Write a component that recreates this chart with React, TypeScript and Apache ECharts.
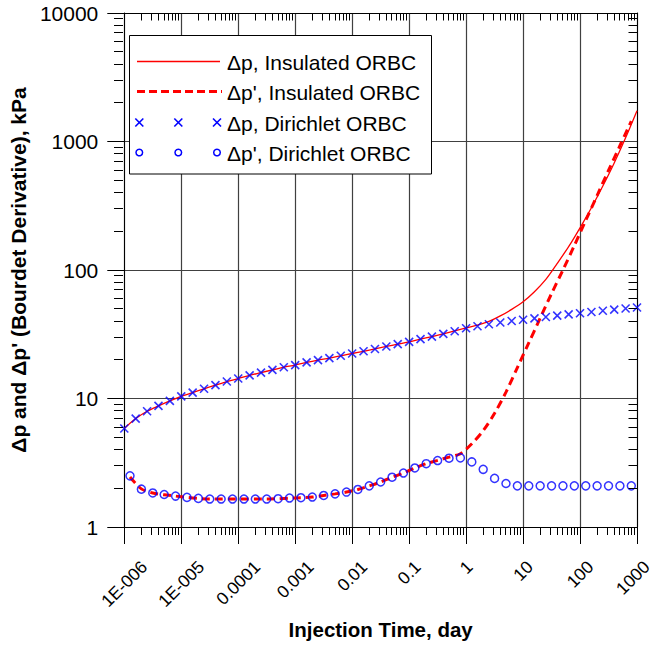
import React, { useEffect, useRef } from 'react';
import * as echarts from 'echarts';

// Sample times (day) for pressure change, 5 per decade
const tDp = [
  1e-6, 1.585e-6, 2.512e-6, 3.981e-6, 6.31e-6,
  1e-5, 1.585e-5, 2.512e-5, 3.981e-5, 6.31e-5,
  1e-4, 1.585e-4, 2.512e-4, 3.981e-4, 6.31e-4,
  1e-3, 1.585e-3, 2.512e-3, 3.981e-3, 6.31e-3,
  0.01, 0.01585, 0.02512, 0.03981, 0.0631,
  0.1, 0.1585, 0.2512, 0.3981, 0.631,
  1, 1.585, 2.512, 3.981, 6.31,
  10, 15.85, 25.12, 39.81, 63.1,
  100, 158.5, 251.2, 398.1, 631,
  1000,
];

// Δp, Insulated ORBC (kPa)
const dpInsulated = [
  5.84, 6.98, 7.96, 8.76, 9.58, 10.4, 11.1, 11.9, 12.7, 13.55,
  14.3, 15.15, 15.9, 16.7, 17.5, 18.2, 19.1, 19.9, 20.6, 21.5,
  22.4, 23.3, 24.3, 25.4, 26.5, 27.6, 29.0, 30.3, 31.9, 33.6,
  35.4, 37.3, 39.8, 43.9, 49.4, 56.6, 67.8, 84.5, 112.5, 152,
  213, 305, 450, 681, 1069, 1738,
];

// Δp, Dirichlet ORBC (kPa)
const dpDirichlet = [
  5.84, 6.98, 7.96, 8.76, 9.58, 10.4, 11.1, 11.9, 12.7, 13.55,
  14.3, 15.15, 15.9, 16.7, 17.5, 18.2, 19.1, 19.9, 20.6, 21.5,
  22.4, 23.3, 24.3, 25.4, 26.5, 27.6, 29.0, 30.3, 31.8, 33.4,
  35.2, 36.5, 37.8, 39.0, 40.1, 41.0, 42.0, 43.1, 44.1, 45.2,
  46.1, 47.1, 48.2, 49.2, 50.2, 51.1,
];

// Sample times (day) for Bourdet derivative
const tDer = [
  1.259e-6, 1.995e-6, 3.162e-6, 5.012e-6, 7.943e-6,
  1.259e-5, 1.995e-5, 3.162e-5, 5.012e-5, 7.943e-5,
  1.259e-4, 1.995e-4, 3.162e-4, 5.012e-4, 7.943e-4,
  1.259e-3, 1.995e-3, 3.162e-3, 5.012e-3, 7.943e-3,
  0.01259, 0.01995, 0.03162, 0.05012, 0.07943,
  0.1259, 0.1995, 0.3162, 0.5012, 0.7943,
  1.259, 1.995, 3.162, 5.012, 7.943,
  12.59, 19.95, 31.62, 50.12, 79.43,
  125.9, 199.5, 316.2, 501.2, 794.3,
];

// Δp', Insulated ORBC (kPa)
const derInsulated = [
  2.45, 1.98, 1.84, 1.78, 1.74, 1.70, 1.67, 1.65, 1.65, 1.65,
  1.65, 1.65, 1.65, 1.66, 1.68, 1.69, 1.71, 1.76, 1.81, 1.87,
  1.96, 2.09, 2.24, 2.44, 2.63, 2.88, 3.11, 3.30, 3.50, 3.72,
  4.45, 5.62, 7.67, 11.2, 17.4, 27.1, 42.2, 65.5, 100, 155,
  243, 380, 595, 927, 1442,
];

// Δp', Dirichlet ORBC (kPa)
const derDirichlet = [
  2.50, 1.97, 1.84, 1.79, 1.74, 1.70, 1.67, 1.65, 1.65, 1.65,
  1.65, 1.65, 1.65, 1.66, 1.68, 1.69, 1.71, 1.76, 1.81, 1.87,
  1.96, 2.09, 2.24, 2.44, 2.63, 2.88, 3.11, 3.29, 3.43, 3.45,
  3.21, 2.81, 2.39, 2.18, 2.09, 2.09, 2.09, 2.09, 2.09, 2.09,
  2.09, 2.09, 2.09, 2.09, 2.09,
];

const xTickValues = [1e-6, 1e-5, 1e-4, 1e-3, 0.01, 0.1, 1, 10, 100, 1000];
const xTickLabels = ['1E-006', '1E-005', '0.0001', '0.001', '0.01', '0.1', '1', '10', '100', '1000'];
const yDecades = [1, 10, 100, 1000];
const minorMultipliers = [2, 3, 4, 5, 6, 7, 8, 9];

const legendLabels = [
  'Δp, Insulated ORBC',
  "Δp', Insulated ORBC",
  'Δp, Dirichlet ORBC',
  "Δp', Dirichlet ORBC",
];

const xTitle = 'Injection Time, day';
const yTitle = "Δp and Δp' (Bourdet Derivative), kPa";

const FONT = "'Liberation Sans', Arial, Helvetica, sans-serif";
const RED = '#ff0000';
const BLUE = '#0000ff';

export default function App() {
  const ref = useRef<HTMLDivElement>(null);

  useEffect(() => {
    const el = ref.current;
    if (!el) return;
    const chart = echarts.init(el, null, { renderer: 'svg' });

    const W = 656;
    const G = { left: 123, top: 13, width: 514, height: 514 };
    const gBottom = G.top + G.height;
    const gRight = G.left + G.width;

    const pair = (xs: number[], ys: number[]) => xs.map((x, i) => [x, ys[i]]);

    const logAxisBase = {
      type: 'log',
      logBase: 10,
    };

    chart.setOption({
      animation: false,
      textStyle: { fontFamily: FONT, color: '#000' },
      grid: { left: G.left, top: G.top, width: G.width, height: G.height, containLabel: false },
      xAxis: [
        {
          ...logAxisBase,
          min: 1e-6,
          max: 1000,
          position: 'bottom',
          name: xTitle,
          nameLocation: 'middle',
          nameGap: 92,
          nameTextStyle: { fontSize: 20.5, fontWeight: 'bold', color: '#000', fontFamily: FONT },
          axisLine: { show: true, onZero: false, lineStyle: { color: '#000', width: 1 } },
          axisTick: { show: true, inside: false, length: 17, lineStyle: { color: '#000', width: 1 } },
          axisLabel: { show: false },
          splitLine: { show: true, lineStyle: { color: '#404040', width: 1.2 } },
          minorTick: { show: false },
          minorSplitLine: { show: false },
        },
        {
          ...logAxisBase,
          min: 1e-6,
          max: 1000,
          position: 'top',
          axisLine: { show: true, onZero: false, lineStyle: { color: '#000', width: 1 } },
          axisTick: { show: false },
          axisLabel: { show: false },
          splitLine: { show: false },
        },
      ],
      yAxis: [
        {
          ...logAxisBase,
          min: 1,
          max: 10000,
          position: 'left',
          name: yTitle,
          nameLocation: 'middle',
          nameRotate: 90,
          nameGap: 90,
          nameTextStyle: { fontSize: 21, fontWeight: 'bold', color: '#000', fontFamily: FONT },
          axisLine: { show: true, onZero: false, lineStyle: { color: '#000', width: 1 } },
          axisTick: { show: true, inside: false, length: 17, lineStyle: { color: '#000', width: 1 } },
          axisLabel: {
            show: true,
            margin: 26,
            fontSize: 21,
            color: '#000',
            fontFamily: FONT,
            formatter: (v: number) => String(Math.round(v)),
          },
          splitLine: { show: true, lineStyle: { color: '#404040', width: 1.2 } },
          minorTick: { show: false },
          minorSplitLine: { show: false },
        },
        {
          ...logAxisBase,
          min: 1,
          max: 10000,
          position: 'right',
          axisLine: { show: true, onZero: false, lineStyle: { color: '#000', width: 1 } },
          axisTick: { show: false },
          axisLabel: { show: false },
          splitLine: { show: false },
        },
      ],
      series: [
        {
          name: legendLabels[0],
          type: 'line',
          xAxisIndex: 0,
          yAxisIndex: 0,
          data: pair(tDp, dpInsulated),
          showSymbol: false,
          symbol: 'none',
          smooth: 0.3,
          lineStyle: { color: RED, width: 1.3 },
          silent: true,
          z: 2,
        },
        {
          name: legendLabels[1],
          type: 'line',
          xAxisIndex: 0,
          yAxisIndex: 0,
          data: pair(tDer, derInsulated),
          showSymbol: false,
          symbol: 'none',
          smooth: 0.3,
          lineStyle: { color: RED, width: 3, type: [8, 5], cap: 'butt' },
          silent: true,
          z: 3,
        },
        {
          name: legendLabels[2],
          type: 'scatter',
          xAxisIndex: 0,
          yAxisIndex: 0,
          data: pair(tDp, dpDirichlet),
          symbol: 'path://M0,0L10,10M10,0L0,10',
          symbolSize: 8,
          itemStyle: { color: 'transparent', borderColor: BLUE, borderWidth: 1.6 },
          silent: true,
          z: 4,
        },
        {
          name: legendLabels[3],
          type: 'scatter',
          xAxisIndex: 0,
          yAxisIndex: 0,
          data: pair(tDer, derDirichlet),
          symbol: 'circle',
          symbolSize: 8,
          itemStyle: { color: 'transparent', borderColor: BLUE, borderWidth: 1.5 },
          silent: true,
          z: 4,
        },
      ],
    });

    const gx = (v: number) => chart.convertToPixel({ xAxisIndex: 0 }, v) as number;
    const gy = (v: number) => chart.convertToPixel({ yAxisIndex: 0 }, v) as number;
    const crisp = (p: number) => Math.round(p - 0.5) + 0.5;

    const graphics: any[] = [];
    const tickStyle = { stroke: '#000', lineWidth: 1 };

    // minor ticks on x axes (bottom outside, top inside)
    for (let d = 0; d < xTickValues.length - 1; d++) {
      for (const m of minorMultipliers) {
        const px = crisp(gx(xTickValues[d] * m));
        graphics.push({ type: 'line', silent: true, z: 5, shape: { x1: px, y1: gBottom, x2: px, y2: gBottom + 8 }, style: tickStyle });
        graphics.push({ type: 'line', silent: true, z: 5, shape: { x1: px, y1: G.top, x2: px, y2: G.top + 7.5 }, style: tickStyle });
      }
    }
    // minor ticks on y axes (left outside, right inside)
    for (const d of yDecades) {
      for (const m of minorMultipliers) {
        const py = crisp(gy(d * m));
        graphics.push({ type: 'line', silent: true, z: 5, shape: { x1: G.left - 9, y1: py, x2: G.left, y2: py }, style: tickStyle });
        graphics.push({ type: 'line', silent: true, z: 5, shape: { x1: gRight - 8.5, y1: py, x2: gRight, y2: py }, style: tickStyle });
      }
    }

    // rotated x tick labels, centred under each tick
    const canvas = document.createElement('canvas');
    const ctx = canvas.getContext('2d');
    const xLabelSize = 17.5;
    const capH = 0.716 * xLabelSize;
    xTickValues.forEach((v, i) => {
      const label = xTickLabels[i];
      let L = label.length * 9.7;
      if (ctx) {
        ctx.font = `${xLabelSize}px ${FONT}`;
        L = ctx.measureText(label).width;
      }
      let cx = gx(v);
      let cy = 559.5 + 0.354 * (L + capH);
      // keep the rotated box inside the canvas
      const rightMost = cx + 0.354 * (L + xLabelSize * 1.2);
      if (rightMost > W - 2) {
        const s = rightMost - (W - 2);
        cx -= s;
      }
      graphics.push({
        type: 'text',
        silent: true,
        x: cx,
        y: cy,
        rotation: Math.PI / 4,
        style: {
          text: label,
          fontSize: xLabelSize,
          lineHeight: 12,
          fontFamily: FONT,
          fill: '#000',
          align: 'center',
          verticalAlign: 'middle',
        },
      });
    });

    // legend
    const lg = { x: 129.5, y: 35.5, w: 302, h: 138.5 };
    const rowY = [61.5, 91.5, 122.5, 152.5];
    const sx1 = 137, sx2 = 220;
    const markX = [139.3, 178.3, 217];
    const textX = 227;
    const legendChildren: any[] = [];
    legendChildren.push({
      type: 'rect',
      shape: { x: lg.x, y: lg.y, width: lg.w, height: lg.h },
      style: { fill: '#fff', stroke: '#000', lineWidth: 1 },
    });
    legendChildren.push({
      type: 'line',
      shape: { x1: sx1, y1: rowY[0], x2: sx2, y2: rowY[0] },
      style: { stroke: RED, lineWidth: 1.3 },
    });
    legendChildren.push({
      type: 'line',
      shape: { x1: sx1, y1: rowY[1], x2: sx2 + 2, y2: rowY[1] },
      style: { stroke: RED, lineWidth: 3, lineDash: [8, 4] },
    });
    markX.forEach((mx) => {
      const r = 4;
      legendChildren.push({
        type: 'line',
        shape: { x1: mx - r, y1: rowY[2] - r, x2: mx + r, y2: rowY[2] + r },
        style: { stroke: BLUE, lineWidth: 1.6 },
      });
      legendChildren.push({
        type: 'line',
        shape: { x1: mx + r, y1: rowY[2] - r, x2: mx - r, y2: rowY[2] + r },
        style: { stroke: BLUE, lineWidth: 1.6 },
      });
      legendChildren.push({
        type: 'circle',
        shape: { cx: mx, cy: rowY[3], r: 3.3 },
        style: { fill: 'none', stroke: BLUE, lineWidth: 1.5 },
      });
    });
    legendLabels.forEach((label, i) => {
      legendChildren.push({
        type: 'text',
        x: textX,
        y: rowY[i] + 1,
        style: {
          text: label,
          fontSize: 21,
          fontFamily: FONT,
          fill: '#000',
          align: 'left',
          verticalAlign: 'middle',
        },
      });
    });
    graphics.push({ type: 'group', z: 50, silent: true, children: legendChildren });

    chart.setOption({ graphic: graphics });

    return () => {
      chart.dispose();
    };
  }, []);

  return (
    <div
      ref={ref}
      style={{ position: 'absolute', left: 0, top: 0, width: 656, height: 647, background: '#fff' }}
    />
  );
}
